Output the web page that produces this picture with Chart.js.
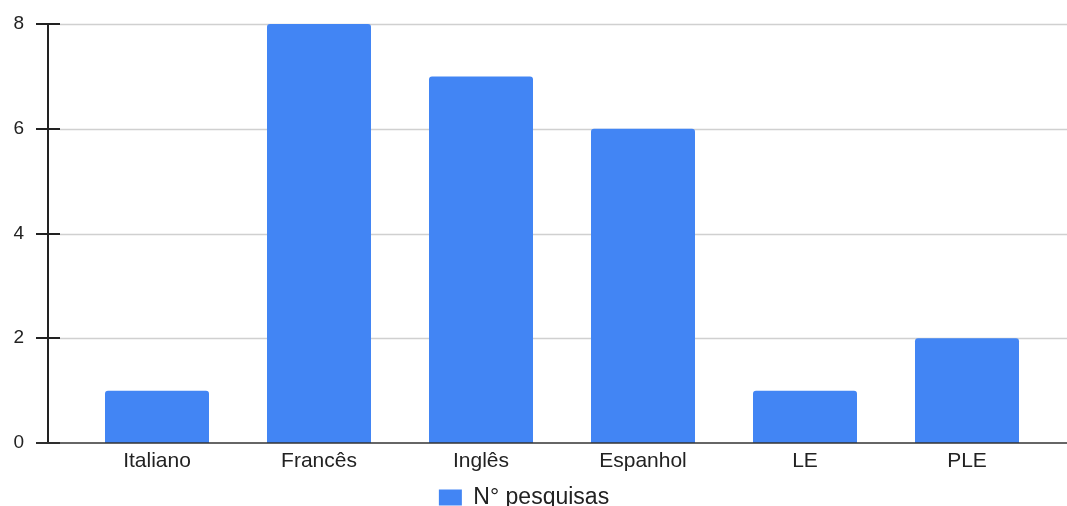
<!DOCTYPE html>
<html>
<head>
<meta charset="utf-8">
<script src="https://cdn.jsdelivr.net/npm/chart.js@4/dist/chart.umd.min.js"></script>
<style>
  html, body { margin: 0; padding: 0; background: #ffffff; }
  #wrap { position: relative; width: 1067px; height: 506px; }
</style>
</head>
<body>
<div id="wrap"><canvas id="chart"></canvas></div>
<script>
// Languages and number of studies per language
const categories = ['Italiano', 'Francês', 'Inglês', 'Espanhol', 'LE', 'PLE'];
const pesquisas = [1, 8, 7, 6, 1, 2];
const yTicks = [0, 2, 4, 6, 8];
const seriesName = 'N° pesquisas';

const FONT = '"Liberation Sans", Arial, sans-serif';
const BAR_BLUE = '#4285f4';

// Axis line, tick marks and grid lines reaching past the plot area
const axisDecor = {
  id: 'axisDecor',
  beforeDatasetsDraw(chart) {
    const { ctx, chartArea, scales } = chart;
    const y = scales.y;
    const axisX = chartArea.left - 28;
    ctx.save();
    ctx.lineWidth = 1.5;
    ctx.strokeStyle = '#d0d0d0';
    yTicks.forEach(v => {
      if (v === 0) return;
      const py = Math.round(y.getPixelForValue(v)) + 0.5;
      ctx.beginPath();
      ctx.moveTo(axisX + 12, py);
      ctx.lineTo(chart.width, py);
      ctx.stroke();
    });
    ctx.strokeStyle = '#222222';
    ctx.lineWidth = 2;
    yTicks.forEach(v => {
      const py = Math.round(y.getPixelForValue(v));
      ctx.beginPath();
      ctx.moveTo(axisX - 12, py);
      ctx.lineTo(axisX + 12, py);
      ctx.stroke();
    });
    ctx.beginPath();
    ctx.moveTo(axisX, y.getPixelForValue(yTicks[yTicks.length - 1]) - 1);
    ctx.lineTo(axisX, y.getPixelForValue(0));
    ctx.stroke();
    ctx.restore();
  },
  afterDatasetsDraw(chart) {
    const { ctx, chartArea, scales } = chart;
    const py = Math.round(scales.y.getPixelForValue(0));
    ctx.save();
    ctx.strokeStyle = '#333333';
    ctx.lineWidth = 1.5;
    ctx.beginPath();
    ctx.moveTo(chartArea.left - 40, py);
    ctx.lineTo(chart.width, py);
    ctx.stroke();
    ctx.restore();
  }
};

new Chart(document.getElementById('chart'), {
  type: 'bar',
  data: {
    labels: categories,
    datasets: [{
      label: seriesName,
      data: pesquisas,
      backgroundColor: BAR_BLUE,
      borderRadius: { topLeft: 3, topRight: 3, bottomLeft: 0, bottomRight: 0 },
      borderSkipped: 'start',
      categoryPercentage: 0.642,
      barPercentage: 1.0
    }]
  },
  options: {
    responsive: true,
    maintainAspectRatio: false,
    animation: false,
    devicePixelRatio: 1,
    layout: { padding: { top: 24, right: 19, left: 0, bottom: -13 } },
    plugins: {
      legend: {
        position: 'bottom',
        labels: {
          font: { family: FONT, size: 23 },
          color: '#222222',
          boxWidth: 23,
          boxHeight: 16,
          padding: 6
        }
      },
      tooltip: { enabled: false }
    },
    scales: {
      x: {
        grid: { display: false, drawTicks: false },
        border: { display: false },
        ticks: {
          font: { family: FONT, size: 21 },
          color: '#222222',
          padding: 6,
          maxRotation: 0
        },
        afterFit(scale) { scale.height = 37; }
      },
      y: {
        min: 0,
        max: 8,
        grid: { display: false, drawTicks: false },
        border: { display: false },
        afterBuildTicks(scale) { scale.ticks = yTicks.map(v => ({ value: v })); },
        ticks: {
          font: { family: FONT, size: 19 },
          color: '#222222',
          padding: 52
        },
        afterFit(scale) {
          scale.width = 76;
          scale.paddingTop = 0;
          scale.paddingBottom = 0;
        }
      }
    }
  },
  plugins: [axisDecor]
});
</script>
</body>
</html>
